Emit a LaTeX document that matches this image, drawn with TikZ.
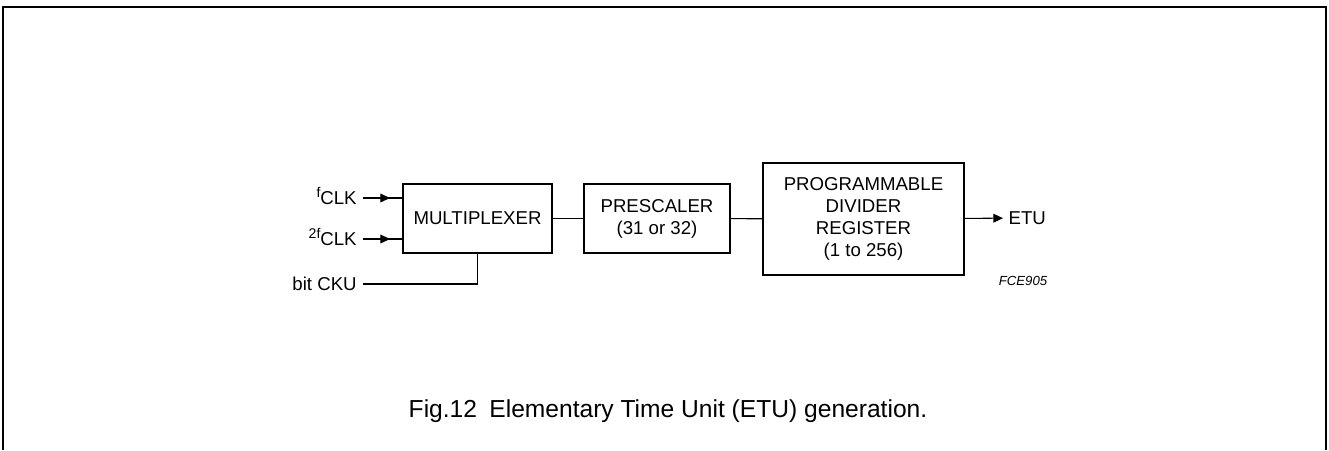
\documentclass[tikz,border=0pt]{standalone}
\usepackage{fontspec}
\setmainfont{Liberation Sans}
\usetikzlibrary{arrows.meta}

\newcommand{\upf}[1]{\raisebox{3.5pt}{\fontsize{8}{9}\selectfont #1}}

\begin{document}
\begin{tikzpicture}[x=0.02cm, y=-0.02cm,
    block/.style={rectangle, draw, line width=1.3pt, inner sep=0pt, align=center, font=\fontsize{10.6}{12.5}\selectfont},
    lbl/.style={inner sep=0pt, font=\fontsize{10.6}{12.5}\selectfont},
    wire/.style={line width=0.6pt}]
            \useasboundingbox (0,0) rectangle (1329,450);
            \draw[line width=1pt] (3,450) -- (3,7) -- (1326,7) -- (1326,450);

            \node[block, minimum width=2.98cm, minimum height=1.38cm] (mux) at (477.5,218.5) {MULTIPLEXER};
            \node[block, minimum width=2.92cm, minimum height=1.38cm] (pre) at (657,218.5) {PRESCALER\\(31 or 32)};
            \node[block, minimum width=4.02cm, minimum height=2.24cm] (prog) at (863.5,219) {PROGRAMMABLE\\DIVIDER\\REGISTER\\(1 to 256)};

            \coordinate (fin) at (363,198);
            \coordinate (ffin) at (363,239);
            \coordinate (cku) at (363,284);
            \node[lbl, anchor=base east] (flbl) at (357,204) {\upf{f}CLK};
            \node[lbl, anchor=base east] (fflbl) at (357,245) {\upf{2f}CLK};
            \node[lbl, anchor=base east] (ckulbl) at (357,290) {bit CKU};
            \node[lbl, anchor=west, inner sep=3pt] (etu) at (1003,218) {ETU};
            \node[inner sep=0pt, font=\fontsize{7.5}{9}\itshape] (code) at (1023,281) {FCE905};

            \draw[wire] (fin) -- (fin -| mux.west);
            \draw[->, >={Triangle[length=5.5pt, width=5pt]}, wire] (fin) -- ++(27,0);
            \draw[wire] (ffin) -- (ffin -| mux.west);
            \draw[->, >={Triangle[length=5.5pt, width=5pt]}, wire] (ffin) -- ++(27,0);
            \draw[wire] (cku) -| (mux.south);
            \draw[wire] (mux) -- (pre);
            \draw[wire] (pre) -- (prog);
            \draw[->, >={Triangle[length=5.5pt, width=5pt]}, wire] (prog) -- (etu);

            \node[inner sep=0pt, anchor=base, font=\fontsize{14}{16}\selectfont] (caption) at (668,417) {Fig.12\enspace Elementary Time Unit (ETU) generation.};
        \end{tikzpicture}
\end{document}
